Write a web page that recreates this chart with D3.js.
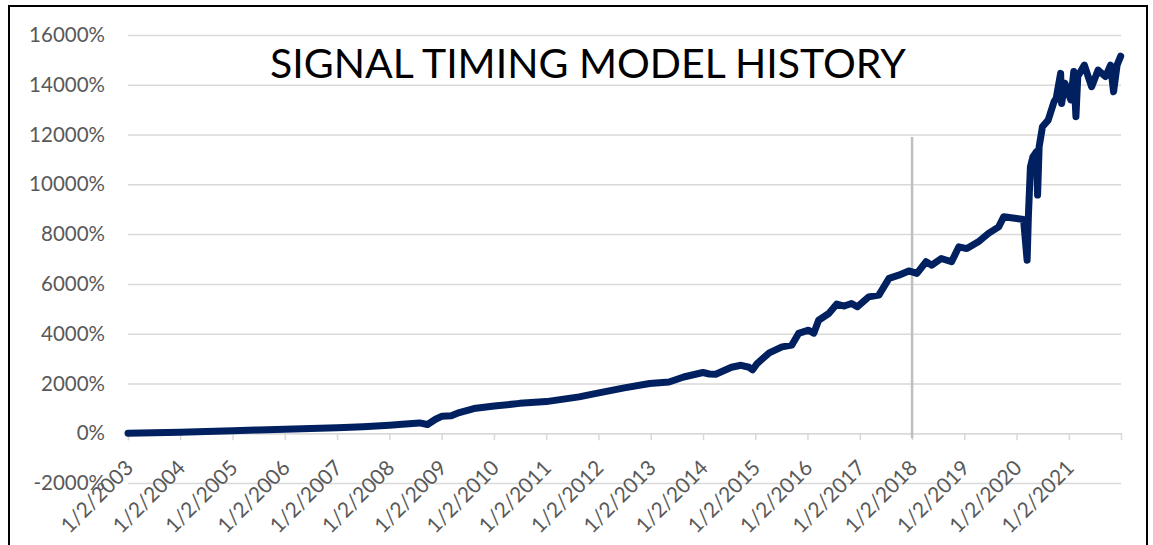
<!DOCTYPE html>
<html>
<head>
<meta charset="utf-8">
<script src="https://cdn.jsdelivr.net/npm/d3@7"></script>
<style>
  body { margin: 0; background: #fff; }
  svg { display: block; }
</style>
</head>
<body>
<div id="chart"></div>
<script>
// data (cumulative return, %)
var dates = [
  "2003-01-02", "2003-07-01", "2004-01-02", "2004-07-01", "2005-01-03", "2005-07-01",
  "2006-01-03", "2006-07-03", "2007-01-03", "2007-07-02", "2008-01-02", "2008-04-01",
  "2008-07-31", "2008-09-25", "2008-11-20", "2009-01-05", "2009-03-10", "2009-05-05",
  "2009-08-15", "2010-01-04", "2010-07-01", "2011-01-03", "2011-08-20", "2012-01-05",
  "2012-07-01", "2012-12-25", "2013-05-10", "2013-08-20", "2014-01-02", "2014-02-15",
  "2014-04-01", "2014-07-20", "2014-09-25", "2014-11-20", "2014-12-15", "2015-01-15",
  "2015-04-10", "2015-07-08", "2015-09-15", "2015-11-01", "2016-01-10", "2016-02-15",
  "2016-03-20", "2016-05-30", "2016-07-25", "2016-09-15", "2016-11-05", "2016-12-15",
  "2017-03-05", "2017-05-15", "2017-07-25", "2017-10-01", "2017-12-10", "2018-02-05",
  "2018-04-10", "2018-05-20", "2018-07-25", "2018-10-05", "2018-11-25", "2019-01-20",
  "2019-04-10", "2019-06-20", "2019-08-30", "2019-10-05", "2020-01-02", "2020-02-20",
  "2020-03-16", "2020-03-25", "2020-04-08", "2020-04-25", "2020-05-20", "2020-05-28",
  "2020-06-08", "2020-07-01", "2020-08-10", "2020-09-20", "2020-10-05", "2020-11-05",
  "2020-11-12", "2020-12-05", "2021-01-15", "2021-02-05", "2021-02-20", "2021-03-05",
  "2021-04-20", "2021-06-10", "2021-07-25", "2021-09-15", "2021-10-20", "2021-11-10",
  "2021-12-05", "2021-12-30"
];
var values = [
  0, 20, 40, 70, 100, 130,
  160, 185, 220, 260, 320, 360,
  415, 350, 560, 685, 700, 830,
  990, 1090, 1200, 1270, 1460, 1620,
  1820, 2000, 2060, 2260, 2440, 2380,
  2370, 2650, 2730, 2650, 2550, 2800,
  3230, 3470, 3540, 4010, 4140, 4020,
  4540, 4810, 5190, 5110, 5210, 5080,
  5480, 5550, 6220, 6350, 6520, 6420,
  6890, 6750, 7020, 6890, 7490, 7420,
  7690, 8030, 8290, 8700, 8630, 8590,
  6950, 8750, 10700, 11100, 11310, 9570,
  11510, 12310, 12580, 13320, 13450, 14460,
  13250, 14060, 13390, 14530, 12720, 14330,
  14790, 13920, 14590, 14330, 14790, 13720,
  14800, 15150
];
var yTicks = [-2000, 0, 2000, 4000, 6000, 8000, 10000, 12000, 14000, 16000];
var tickYears = [2003, 2004, 2005, 2006, 2007, 2008, 2009, 2010, 2011, 2012,
                 2013, 2014, 2015, 2016, 2017, 2018, 2019, 2020, 2021];
var markerDate = "2018-01-02";
var markerTop = 11900;
var title = "SIGNAL TIMING MODEL HISTORY";

var W = 1153, H = 545;
var margin = {top: 35, right: 32, bottom: 62, left: 128},
    width = W - margin.left - margin.right,
    height = H - margin.top - margin.bottom;

var parseDate = d3.timeParse("%Y-%m-%d");
var series = dates.map(function (d, i) {
    return {date: parseDate(d), value: values[i]};
});

var xScale = d3.scaleTime()
    .domain([parseDate("2003-01-02"), parseDate("2022-01-01")])
    .range([0, width]);

var yScale = d3.scaleLinear()
    .domain([-2000, 16000])
    .range([height, 0]);

var svg = d3.select("#chart").append("svg")
    .attr("width", W)
    .attr("height", H);

// outer frame
svg.append("rect")
    .attr("x", 9).attr("y", 6)
    .attr("width", 1138).attr("height", 560)
    .attr("fill", "none")
    .attr("stroke", "#000")
    .attr("stroke-width", 2);

var g = svg.append("g")
    .attr("transform", "translate(" + margin.left + "," + margin.top + ")");

// horizontal gridlines + y labels
var yAxis = d3.axisLeft(yScale)
    .tickValues(yTicks)
    .tickSize(-width)
    .tickPadding(23)
    .tickFormat(function (d) { return d + "%"; });

g.append("g")
    .attr("class", "y_axis")
    .call(yAxis)
    .call(function (a) { a.select(".domain").remove(); })
    .call(function (a) {
        a.selectAll("line").attr("stroke", "#d9d9d9").attr("stroke-width", 1.5);
        a.selectAll("text")
            .attr("fill", "#595959")
            .style("font-family", "Lato, 'Open Sans', sans-serif")
            .style("font-size", "20.5px");
    });

// x axis sits on the 0% line
var xAxis = d3.axisBottom(xScale)
    .tickValues(tickYears.map(function (y) { return new Date(y, 0, 2); }))
    .tickSize(7)
    .tickFormat(d3.timeFormat("%-m/%-d/%Y"));

g.append("g")
    .attr("class", "x_axis")
    .attr("transform", "translate(0," + yScale(0) + ")")
    .call(xAxis)
    .call(function (a) {
        a.select(".domain").attr("stroke", "#d9d9d9").attr("stroke-width", 1.5);
        a.selectAll("line").attr("stroke", "#d9d9d9").attr("stroke-width", 1.5);
        a.selectAll("text")
            .attr("fill", "#595959")
            .style("font-family", "Lato, 'Open Sans', sans-serif")
            .style("font-size", "21px")
            .style("text-anchor", "end")
            .attr("dy", "0")
            .attr("y", 0)
            .attr("transform", "translate(6,36) rotate(-45)");
    });

// vertical marker at 2018
g.append("line")
    .attr("x1", xScale(parseDate(markerDate)))
    .attr("x2", xScale(parseDate(markerDate)))
    .attr("y1", yScale(markerTop))
    .attr("y2", yScale(0) + 5)
    .attr("stroke", "#bfbfbf")
    .attr("stroke-width", 2.5);

// the model line
var line = d3.line()
    .x(function (d) { return xScale(d.date); })
    .y(function (d) { return yScale(d.value); });

g.append("path")
    .datum(series)
    .attr("fill", "none")
    .attr("stroke", "#002060")
    .attr("stroke-width", 7)
    .attr("stroke-linejoin", "round")
    .attr("stroke-linecap", "round")
    .attr("d", line);

svg.append("text")
    .attr("x", 588)
    .attr("y", 78)
    .attr("text-anchor", "middle")
    .attr("fill", "#000")
    .style("font-family", "Lato, 'Open Sans', sans-serif")
    .style("font-size", "41px")
    .text(title);
</script>
</body>
</html>
